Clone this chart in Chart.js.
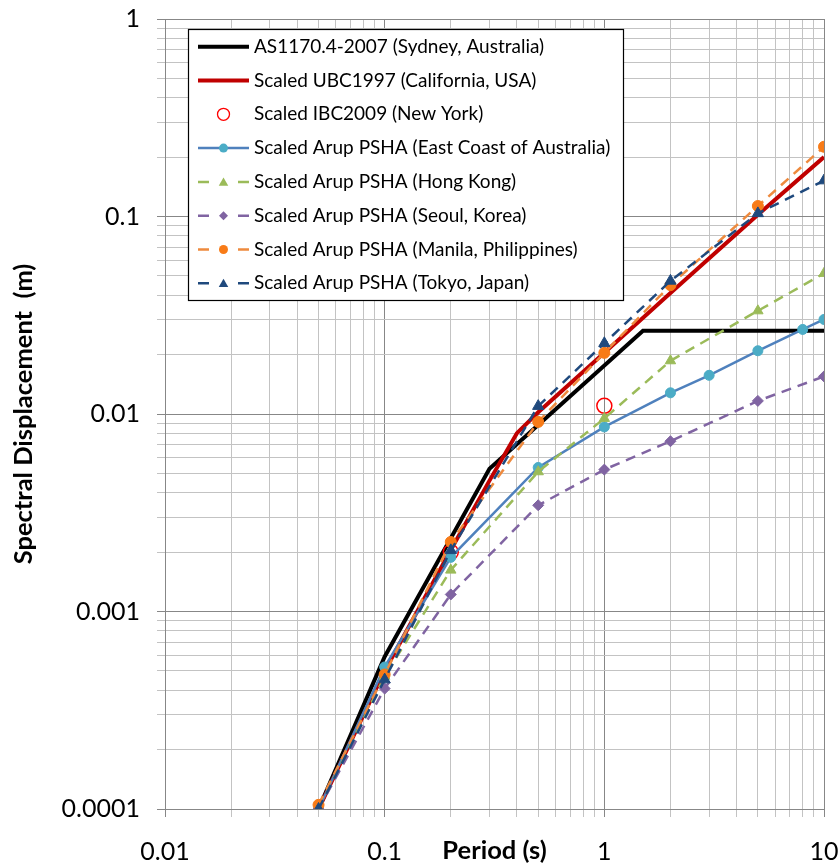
<!DOCTYPE html>
<html>
<head>
<meta charset="utf-8">
<script src="https://cdn.jsdelivr.net/npm/chart.js@4/dist/chart.umd.min.js"></script>
<style>
  html, body { margin: 0; padding: 0; background: #ffffff; }
  canvas { display: block; }
</style>
</head>
<body>
<canvas id="chart" width="840" height="866"></canvas>
<script>
// Decade tick labels for the two log axes
const xTickLabels = ['0.01', '0.1', '1', '10'];
const yTickLabels = ['0.0001', '0.001', '0.01', '0.1', '1'];

// Period (s) / spectral displacement (m) for each spectrum
const periodAS1170 = [0.05, 0.1, 0.2, 0.3, 1.5, 10];
const sdAS1170     = [0.0001, 0.00059, 0.00235, 0.00528, 0.0264, 0.0264];

const periodUBC = [0.05, 0.1, 0.2, 0.3, 0.4, 0.5, 1, 2, 5, 10];
const sdUBC     = [0.0001, 0.0005, 0.00205, 0.0046, 0.008, 0.0102, 0.0204, 0.041, 0.102, 0.2];

const periodIBC = [0.2, 1];
const sdIBC     = [0.002, 0.011];

const periodEastCoast = [0.05, 0.1, 0.2, 0.5, 1, 2, 3, 5, 8, 10];
const sdEastCoast     = [0.0001, 0.000524, 0.00188, 0.00536, 0.0086, 0.0128, 0.0157, 0.0209, 0.0268, 0.0301];

const periodPSHA = [0.05, 0.1, 0.2, 0.5, 1, 2, 5, 10];
const sdHongKong = [0.0001, 0.00047, 0.00162, 0.0051, 0.0095, 0.0186, 0.0333, 0.0515];
const sdSeoul    = [0.0001, 0.000407, 0.00122, 0.00345, 0.00523, 0.00728, 0.01165, 0.0155];
const sdManila   = [0.000105, 0.00048, 0.00225, 0.00912, 0.0204, 0.0449, 0.113, 0.2255];
const sdTokyo    = [0.0001, 0.000452, 0.00204, 0.01096, 0.0228, 0.0472, 0.1037, 0.152];

const seriesNames = [
  'AS1170.4-2007 (Sydney, Australia)',
  'Scaled UBC1997 (California, USA)',
  'Scaled IBC2009 (New York)',
  'Scaled Arup PSHA (East Coast of Australia)',
  'Scaled Arup PSHA (Hong Kong)',
  'Scaled Arup PSHA (Seoul, Korea)',
  'Scaled Arup PSHA (Manila, Philippines)',
  'Scaled Arup PSHA (Tokyo, Japan)'
];

const FONT = 'Lato, "Open Sans", "DejaVu Sans", sans-serif';
const toPoints = (xs, ys) => xs.map((x, i) => ({ x: x, y: ys[i] }));
const xDecades = xTickLabels.map(Number);
const yDecades = yTickLabels.map(Number);

// 1..9 x each decade, closing with the last decade value
function logTicks(decades) {
  const out = [];
  for (let d = 0; d < decades.length - 1; d++) {
    for (let m = 1; m <= 9; m++) out.push(m === 1 ? decades[d] : decades[d] * m);
  }
  out.push(decades[decades.length - 1]);
  return out.map(v => ({ value: v }));
}
const isDecade = (list, v) => list.some(d => Math.abs(v / d - 1) < 1e-9);

const MAJOR_GRID = '#878787';
const MINOR_GRID = '#c3c3c3';

function lineSet(label, xs, ys, style) {
  return Object.assign({
    label: label,
    data: toPoints(xs, ys),
    fill: false,
    tension: 0,
    borderWidth: 2.5,
    pointRadius: 0,
    pointHoverRadius: 0,
    pointBorderWidth: 1
  }, style);
}

const datasets = [
  lineSet(seriesNames[0], periodAS1170, sdAS1170, { borderColor: '#000000', borderWidth: 4 }),
  lineSet(seriesNames[1], periodUBC, sdUBC, { borderColor: '#C00000', borderWidth: 4 }),
  lineSet(seriesNames[2], periodIBC, sdIBC, {
    showLine: false, borderColor: '#FF0000', pointStyle: 'circle', pointRadius: 7.5,
    pointBorderColor: '#FF0000', pointBackgroundColor: 'rgba(255,255,255,0)', pointBorderWidth: 1.5
  }),
  lineSet(seriesNames[3], periodEastCoast, sdEastCoast, {
    borderColor: '#4F81BD', pointStyle: 'circle', pointRadius: 5,
    pointBackgroundColor: '#4BACC6', pointBorderColor: '#4BACC6'
  }),
  lineSet(seriesNames[4], periodPSHA, sdHongKong, {
    borderColor: '#9BBB59', borderDash: [10, 7], pointStyle: 'triangle', pointRadius: 6,
    pointBackgroundColor: '#9BBB59', pointBorderColor: '#9BBB59'
  }),
  lineSet(seriesNames[5], periodPSHA, sdSeoul, {
    borderColor: '#8064A2', borderDash: [10, 7], pointStyle: 'rectRot', pointRadius: 5.5,
    pointBackgroundColor: '#8064A2', pointBorderColor: '#8064A2'
  }),
  lineSet(seriesNames[6], periodPSHA, sdManila, {
    borderColor: '#EE8A3E', borderDash: [10, 7], pointStyle: 'circle', pointRadius: 5.5,
    pointBackgroundColor: '#F87B17', pointBorderColor: '#F87B17'
  }),
  lineSet(seriesNames[7], periodPSHA, sdTokyo, {
    borderColor: '#1F497D', borderDash: [10, 7], pointStyle: 'triangle', pointRadius: 6.5,
    pointBackgroundColor: '#1F497D', pointBorderColor: '#1F497D'
  })
];
// later series sit on top of earlier ones
datasets.forEach((ds, i) => { ds.order = -i; });

// small marker renderer for the boxed legend
function drawMarker(ctx, style, r, x, y) {
  ctx.beginPath();
  if (style === 'circle') {
    ctx.arc(x, y, r, 0, Math.PI * 2);
  } else if (style === 'triangle') {
    let a = 0;
    ctx.moveTo(x + Math.sin(a) * r, y - Math.cos(a) * r);
    a += Math.PI * 2 / 3;
    ctx.lineTo(x + Math.sin(a) * r, y - Math.cos(a) * r);
    a += Math.PI * 2 / 3;
    ctx.lineTo(x + Math.sin(a) * r, y - Math.cos(a) * r);
  } else if (style === 'rectRot') {
    ctx.moveTo(x, y - r); ctx.lineTo(x + r, y); ctx.lineTo(x, y + r); ctx.lineTo(x - r, y);
  }
  ctx.closePath();
}

const boxedLegend = {
  id: 'boxedLegend',
  afterDraw(chart) {
    const ctx = chart.ctx;
    const area = chart.chartArea;
    const left = area.left + 23, top = area.top + 10;
    const width = 435, rowH = 33.8, firstRow = 17.7;
    const height = 271;
    ctx.save();
    ctx.fillStyle = '#ffffff';
    ctx.fillRect(left, top, width, height);
    ctx.strokeStyle = '#000000';
    ctx.lineWidth = 1.2;
    ctx.strokeRect(left + 0.5, top + 0.5, width, height);
    chart.data.datasets.forEach((ds, i) => {
      const y = top + firstRow + i * rowH;
      const x0 = left + 10, x1 = left + 61, xm = (x0 + x1) / 2;
      if (ds.showLine !== false) {
        ctx.strokeStyle = ds.borderColor;
        ctx.lineWidth = Math.min(ds.borderWidth, 4);
        ctx.setLineDash([]);
        ctx.beginPath();
        if (ds.borderDash) {
          ctx.moveTo(x0, y); ctx.lineTo(x0 + 11, y);
          ctx.moveTo(x1 - 11, y); ctx.lineTo(x1, y);
        } else {
          ctx.moveTo(x0, y); ctx.lineTo(x1, y);
        }
        ctx.stroke();
      }
      if (ds.pointStyle) {
        const r = ds.showLine === false ? 6 : (ds.pointStyle === 'triangle' ? 5.5 : 4.5);
        drawMarker(ctx, ds.pointStyle, r, xm, y + (ds.pointStyle === 'triangle' ? 1 : 0));
        if (ds.showLine === false) {
          ctx.strokeStyle = ds.pointBorderColor;
          ctx.lineWidth = 1.3;
          ctx.stroke();
        } else {
          ctx.fillStyle = ds.pointBackgroundColor;
          ctx.fill();
        }
      }
      ctx.fillStyle = '#000000';
      ctx.font = '19px ' + FONT;
      ctx.textBaseline = 'middle';
      ctx.textAlign = 'left';
      ctx.fillText(ds.label, left + 66, y);
    });
    ctx.restore();
  }
};

const whiteBackground = {
  id: 'whiteBackground',
  beforeDraw(chart) {
    const ctx = chart.ctx;
    ctx.save();
    ctx.fillStyle = '#ffffff';
    ctx.fillRect(0, 0, chart.width, chart.height);
    ctx.restore();
  }
};

new Chart(document.getElementById('chart'), {
  type: 'line',
  data: { datasets: datasets },
  plugins: [whiteBackground, boxedLegend],
  options: {
    responsive: false,
    devicePixelRatio: 1,
    animation: false,
    events: [],
    layout: { padding: { left: 0, right: 16, top: 19, bottom: 0 } },
    plugins: {
      legend: { display: false },
      tooltip: { enabled: false }
    },
    scales: {
      x: {
        type: 'logarithmic',
        position: 'bottom',
        min: xDecades[0],
        max: xDecades[xDecades.length - 1],
        afterBuildTicks(scale) { scale.ticks = logTicks(xDecades); },
        afterFit(scale) { scale.height = 57; scale.paddingLeft = 0; scale.paddingRight = 0; },
        ticks: {
          autoSkip: false,
          maxRotation: 0,
          padding: 20,
          color: '#000000',
          font: { family: FONT, size: 25 },
          callback(value) {
            const k = xDecades.findIndex(d => Math.abs(value / d - 1) < 1e-9);
            return k >= 0 ? xTickLabels[k] : '';
          }
        },
        grid: {
          drawTicks: true,
          tickLength: 8,
          lineWidth: 1,
          color: (c) => (c.tick && isDecade(xDecades, c.tick.value)) ? MAJOR_GRID : MINOR_GRID
        },
        border: { display: true, color: MAJOR_GRID, width: 1 },
        title: {
          display: true,
          text: 'Period (s)',
          color: '#000000',
          font: { family: FONT, size: 25.5, weight: 'bold' },
          padding: { top: 0, bottom: 0 }
        }
      },
      y: {
        type: 'logarithmic',
        min: yDecades[0],
        max: yDecades[yDecades.length - 1],
        afterBuildTicks(scale) { scale.ticks = logTicks(yDecades); },
        afterFit(scale) { scale.width = 165; scale.paddingTop = 0; scale.paddingBottom = 0; },
        ticks: {
          autoSkip: false,
          padding: 17,
          color: '#000000',
          font: { family: FONT, size: 25 },
          callback(value) {
            const k = yDecades.findIndex(d => Math.abs(value / d - 1) < 1e-9);
            return k >= 0 ? yTickLabels[k] : '';
          }
        },
        grid: {
          drawTicks: true,
          tickLength: 8,
          lineWidth: 1,
          color: (c) => (c.tick && isDecade(yDecades, c.tick.value)) ? MAJOR_GRID : MINOR_GRID
        },
        border: { display: true, color: MAJOR_GRID, width: 1 },
        title: {
          display: true,
          text: 'Spectral Displacement  (m)',
          color: '#000000',
          font: { family: FONT, size: 25.5, weight: 'bold' },
          padding: { top: 8, bottom: 0 }
        }
      }
    }
  }
});
</script>
</body>
</html>
